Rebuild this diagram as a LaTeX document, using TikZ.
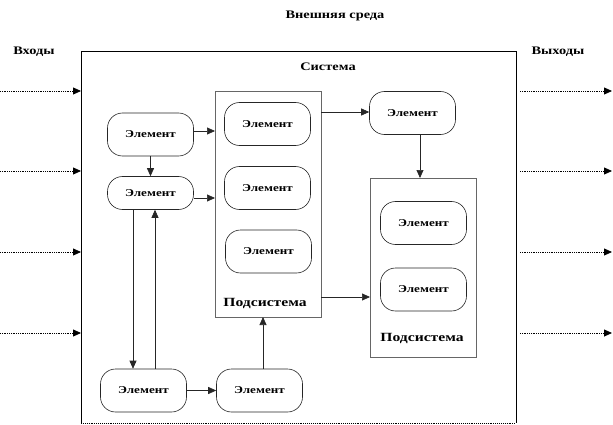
\documentclass[tikz,border=0pt]{standalone}
\usepackage{fontspec}
\setmainfont[FakeStretch=1.25]{Liberation Serif}
\usetikzlibrary{arrows.meta}
\begin{document}
\begin{tikzpicture}[x=1pt,y=-1pt,
  elem/.style={draw=black!85,fill=white,rectangle,rounded corners=15pt,minimum width=86pt,minimum height=43pt,inner sep=0pt,font=\fontsize{10.5}{11}\selectfont\bfseries,line width=0.6pt},
  subsys/.style={draw=black!60,line width=1pt},
  arr/.style={-{Triangle[length=8pt,width=7pt]},line width=0.7pt,draw=black!85},
  darr/.style={-{Triangle[length=8pt,width=7pt]},densely dotted,line width=0.8pt},
  lbl/.style={font=\fontsize{11.5}{12}\selectfont\bfseries,inner sep=0pt},
  sublbl/.style={font=\fontsize{12.5}{13}\selectfont\bfseries,inner sep=0pt}]
\useasboundingbox (0,0) rectangle (613,425);
% main system box
\draw[line width=0.8pt] (81,423) -- (81,51) -- (516,51) -- (516,423);
\draw[densely dotted,line width=0.9pt] (81,423) -- (516,423);
% titles
\node[lbl] (env) at (335,16) {Внешняя среда};
\node[lbl] (inp) at (34,52) {Входы};
\node[lbl] (outp) at (558,52) {Выходы};
\node[lbl] (sys) at (328,67) {Система};
% inputs / outputs
\foreach \i/\y in {1/91,2/171,3/252,4/333}{
  \coordinate (in\i) at (0,\y);
  \coordinate (ie\i) at (81,\y);
  \coordinate (os\i) at (520,\y);
  \coordinate (oe\i) at (612,\y);
  \draw[darr] (in\i) -- (ie\i);
  \draw[darr] (os\i) -- (oe\i);
}
% subsystems
\draw[subsys] (215,92) rectangle (321,317);
\coordinate (S1w) at (215,200); \coordinate (S1e) at (321,200);
\coordinate (S1s) at (268,317);
\node[sublbl] (sl1) at (265,303) {Подсистема};
\draw[subsys] (370,178) rectangle (476,357);
\coordinate (S2w) at (370,260); \coordinate (S2n) at (423,178);
\node[sublbl] (sl2) at (422,338) {Подсистема};
% elements
\node[elem] (E1) at (150.5,134.5) {Элемент};
\node[elem,minimum height=33pt] (E2) at (150.5,193) {Элемент};
\node[elem] (A1) at (267.5,124) {Элемент};
\node[elem] (A2) at (267.5,188) {Элемент};
\node[elem] (A3) at (268.5,251.5) {Элемент};
\node[elem] (Et) at (412.5,113) {Элемент};
\node[elem] (B1) at (423.5,223) {Элемент};
\node[elem] (B2) at (423.5,289.5) {Элемент};
\node[elem] (C1) at (143.5,390.5) {Элемент};
\node[elem] (C2) at (259.5,390.5) {Элемент};
% helper coordinates
\coordinate (xa) at (133,0);
\coordinate (xb) at (155,0);
\coordinate (xc) at (263,0);
\coordinate (xd) at (420,0);
\coordinate (ya) at (0,297);
\coordinate (yb) at (0,131);
\coordinate (yc) at (0,198);
\coordinate (ye) at (0,112);
% connectors
\draw[arr] (E1.east |- yb) -- (S1w |- yb);
\draw[arr] (E2.east |- yc) -- (S1w |- yc);
\draw[arr] (E1.south -| E1) -- (E2.north);
\draw[arr] (E2.south -| xa) -- (C1.north -| xa);
\draw[arr] (C1.north -| xb) -- (E2.south -| xb);
\draw[arr] (C1.east) -- (C2.west);
\draw[arr] (C2.north -| xc) -- (S1s -| xc);
\draw[arr] (S1e |- ye) -- (Et.west |- ye);
\draw[arr] (Et.south -| xd) -- (S2n -| xd);
\draw[arr] (S1e |- ya) -- (S2w |- ya);
\end{tikzpicture}
\end{document}
